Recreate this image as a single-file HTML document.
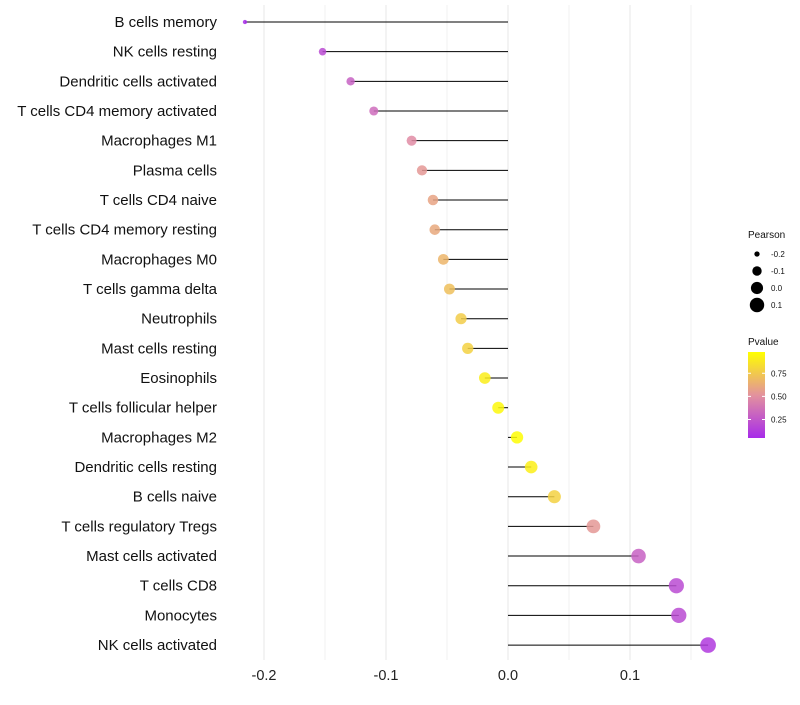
<!DOCTYPE html>
<html><head><meta charset="utf-8"><style>
body{margin:0;background:#fff;font-family:"Liberation Sans",sans-serif}
</style></head><body>
<svg id="c" width="800" height="700" xmlns="http://www.w3.org/2000/svg"></svg>
<script>
const categories=["B cells memory","NK cells resting","Dendritic cells activated","T cells CD4 memory activated","Macrophages M1","Plasma cells","T cells CD4 naive","T cells CD4 memory resting","Macrophages M0","T cells gamma delta","Neutrophils","Mast cells resting","Eosinophils","T cells follicular helper","Macrophages M2","Dendritic cells resting","B cells naive","T cells regulatory  Tregs ","Mast cells activated","T cells CD8","Monocytes","NK cells activated"];
const pearson=[-0.2156,-0.152,-0.129,-0.110,-0.079,-0.0705,-0.0615,-0.060,-0.053,-0.048,-0.0385,-0.033,-0.019,-0.008,0.0074,0.019,0.038,0.070,0.107,0.138,0.140,0.164];
const pvalue=[0.05,0.2,0.3,0.35,0.5,0.55,0.6,0.62,0.68,0.72,0.78,0.8,0.92,0.97,0.99,0.93,0.8,0.55,0.3,0.2,0.2,0.12];
const xTicks=[-0.2,-0.1,0.0,0.1];
const xTickLabels=["-0.2","-0.1","0.0","0.1"];
const sizeLegend=[-0.2,-0.1,0.0,0.1];
const colorLegend=[0.25,0.5,0.75];
const svg=document.getElementById('c');const NS="http://www.w3.org/2000/svg";
function mk(t,a,p){const e=document.createElementNS(NS,t);for(const k in a)e.setAttribute(k,a[k]);(p||svg).appendChild(e);return e;}
const x=v=>508+v*1220;
const y=i=>22+i*29.67;
const r=v=>Math.sqrt(4+(v+0.22)*150);
function col(p){const t=Math.max(0,Math.min(1,p));const a=[160,32,240],m=[225,140,165],b=[255,255,0];let c;
if(t<0.5){const u=t/0.5;c=a.map((q,i)=>q+(m[i]-q)*u);}else{const u=(t-0.5)/0.5;c=m.map((q,i)=>q+(b[i]-q)*u);}
return `rgb(${c.map(Math.round).join(',')})`;}
[-0.15,-0.05,0.05,0.15].forEach(v=>{const g=mk('line',{x1:x(v),x2:x(v),y1:5,y2:660,stroke:'#f2f2f2','stroke-width':1});

});
[-0.2,-0.1,0,0.1].forEach(v=>{const g=mk('line',{x1:x(v),x2:x(v),y1:5,y2:660,stroke:'#ebebeb','stroke-width':1.2});

});
xTicks.forEach((v,i)=>{const t=mk('text',{x:x(v),y:680,'text-anchor':'middle','font-size':14.5,fill:'#222'});t.textContent=xTickLabels[i];

});
categories.forEach((c,i)=>{
const t=mk('text',{x:217,y:y(i)+5,'text-anchor':'end','font-size':15,fill:'#111'});t.textContent=c;


const l=mk('line',{x1:x(0),x2:x(pearson[i]),y1:y(i),y2:y(i),stroke:'#000','stroke-width':1});


const d=mk('circle',{cx:x(pearson[i]),cy:y(i),r:r(pearson[i]),fill:col(pvalue[i]),'fill-opacity':0.85});


});
let t=mk('text',{x:748,y:238,'font-size':10,fill:'#111'});t.textContent='Pearson';


sizeLegend.forEach((v,i)=>{const cy=254+i*17;const c=mk('circle',{cx:757,cy:cy,r:r(v),fill:'#000'});


const tt=mk('text',{x:771,y:cy+3,'font-size':8,fill:'#111'});tt.textContent=v.toFixed(1);

});
t=mk('text',{x:748,y:345,'font-size':10,fill:'#111'});t.textContent='Pvalue';


const defs=mk('defs',{});const gr=mk('linearGradient',{id:'g',x1:0,y1:1,x2:0,y2:0},defs);
[0,0.25,0.5,0.75,1].forEach(s=>mk('stop',{offset:s,'stop-color':col(0.05+s*0.95)},gr));
const bar=mk('rect',{x:748,y:352,width:17,height:86,fill:'url(#g)'});


const cy=v=>438-(v-0.05)/(0.98-0.05)*86;
colorLegend.forEach(v=>{mk('line',{x1:748,x2:751,y1:cy(v),y2:cy(v),stroke:'#fff'});mk('line',{x1:762,x2:765,y1:cy(v),y2:cy(v),stroke:'#fff'});
const tt=mk('text',{x:771,y:cy(v)+3,'font-size':8,fill:'#111'});tt.textContent=v.toFixed(2);

});
</script>
</body></html>
